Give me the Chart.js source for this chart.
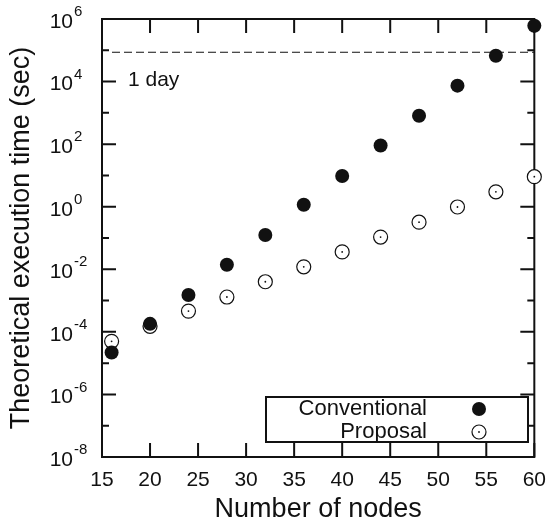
<!DOCTYPE html>
<html lang="en">

<head>
    <meta charset="UTF-8">
    <title>Theoretical execution time</title>
    <script src="https://cdn.jsdelivr.net/npm/chart.js"></script>
    <style>
        body { margin: 0; background: #fff; }
    </style>
</head>

<body>
    <canvas id="execTimeChart" width="557" height="530"></canvas>

    <script>
        // data
        const nodes = [16, 20, 24, 28, 32, 36, 40, 44, 48, 52, 56, 60];
        const conventional = [2.2e-5, 1.8e-4, 1.5e-3, 0.014, 0.125, 1.15, 9.6, 90, 810, 7400, 67000, 610000];
        const proposal = [5e-5, 1.5e-4, 4.6e-4, 1.3e-3, 4e-3, 0.012, 0.036, 0.107, 0.32, 0.98, 3.0, 9.1];
        const xTicks = [15, 20, 25, 30, 35, 40, 45, 50, 55, 60];
        const yExponents = [-8, -7, -6, -5, -4, -3, -2, -1, 0, 1, 2, 3, 4, 5, 6];
        const oneDay = 86400;

        const FONT = 'Liberation Sans, Arial, Helvetica, sans-serif';
        const INK = '#111';

        function centerDot(ctx, x, y) {
            ctx.beginPath();
            ctx.arc(x, y, 0.9, 0, Math.PI * 2);
            ctx.fill();
        }

        // frame, inward ticks, 1 day line, y labels, legend
        const framePlugin = {
            id: 'frame',
            beforeDatasetsDraw(chart) {
                const { ctx, chartArea: a, scales } = chart;
                const xs = scales.x, ys = scales.y;
                ctx.save();
                ctx.strokeStyle = INK;
                ctx.lineWidth = 2;
                ctx.beginPath();
                xTicks.forEach(v => {
                    const px = xs.getPixelForValue(v);
                    ctx.moveTo(px, a.bottom); ctx.lineTo(px, a.bottom - 14);
                    ctx.moveTo(px, a.top); ctx.lineTo(px, a.top + 14);
                });
                yExponents.forEach(e => {
                    const py = ys.getPixelForValue(Math.pow(10, e));
                    const len = e % 2 === 0 ? 14 : 7;
                    ctx.moveTo(a.left, py); ctx.lineTo(a.left + len, py);
                    ctx.moveTo(a.right, py); ctx.lineTo(a.right - len, py);
                });
                ctx.stroke();
                ctx.strokeRect(a.left, a.top, a.right - a.left, a.bottom - a.top);

                // 1 day
                const dy = ys.getPixelForValue(oneDay);
                ctx.lineWidth = 1.2;
                ctx.setLineDash([8, 4]);
                ctx.beginPath();
                ctx.moveTo(a.left + 10, dy);
                ctx.lineTo(a.right, dy);
                ctx.stroke();
                ctx.setLineDash([]);
                ctx.fillStyle = INK;
                ctx.font = '21px ' + FONT;
                ctx.textAlign = 'left';
                ctx.textBaseline = 'middle';
                ctx.fillText('1 day', a.left + 26, dy + 28);

                // y tick labels 10^n
                ys.ticks.forEach(t => {
                    const e = Math.round(Math.log10(t.value));
                    if (e % 2 !== 0) return;
                    const py = ys.getPixelForValue(t.value);
                    ctx.font = '21px ' + FONT;
                    ctx.textAlign = 'right';
                    ctx.fillText('10', 73, py + 3);
                    ctx.font = '15px ' + FONT;
                    ctx.textAlign = 'left';
                    ctx.fillText(String(e), 74, py - 7);
                });
                ctx.restore();
            },
            afterDatasetsDraw(chart) {
                // dot in the middle of each open circle
                const { ctx } = chart;
                ctx.save();
                ctx.fillStyle = INK;
                chart.getDatasetMeta(1).data.forEach(pt => centerDot(ctx, pt.x, pt.y));
                ctx.restore();
            },
            afterDraw(chart) {
                // legend box
                const { ctx } = chart;
                ctx.save();
                ctx.fillStyle = '#fff';
                ctx.strokeStyle = INK;
                ctx.lineWidth = 2;
                ctx.fillRect(266, 397, 262, 45);
                ctx.strokeRect(266, 397, 262, 45);
                ctx.font = '22px ' + FONT;
                ctx.textAlign = 'right';
                ctx.textBaseline = 'middle';
                const rows = [409, 432];
                chart.data.datasets.forEach((ds, i) => {
                    ctx.fillStyle = INK;
                    ctx.fillText(ds.label, 427, rows[i]);
                    ctx.beginPath();
                    ctx.arc(479, rows[i], 7, 0, Math.PI * 2);
                    ctx.fillStyle = ds.backgroundColor;
                    ctx.fill();
                    if (ds.borderWidth) {
                        ctx.lineWidth = ds.borderWidth;
                        ctx.strokeStyle = ds.borderColor;
                        ctx.stroke();
                        ctx.fillStyle = INK;
                        centerDot(ctx, 479, rows[i]);
                    }
                });
                ctx.restore();
            }
        };

        document.addEventListener('DOMContentLoaded', function () {
            const ctx = document.getElementById('execTimeChart').getContext('2d');
            new Chart(ctx, {
                type: 'scatter',
                data: {
                    datasets: [{
                        label: 'Conventional',
                        data: nodes.map((n, i) => ({ x: n, y: conventional[i] })),
                        pointStyle: 'circle',
                        pointRadius: 7,
                        backgroundColor: INK,
                        borderColor: INK,
                        borderWidth: 0,
                        clip: false
                    }, {
                        label: 'Proposal',
                        data: nodes.map((n, i) => ({ x: n, y: proposal[i] })),
                        pointStyle: 'circle',
                        pointRadius: 7,
                        backgroundColor: '#fff',
                        borderColor: INK,
                        borderWidth: 1.2,
                        clip: false
                    }]
                },
                options: {
                    responsive: false,
                    animation: false,
                    events: [],
                    layout: { padding: { top: 19, right: 16, left: 0, bottom: 0 } },
                    plugins: { legend: { display: false }, tooltip: { enabled: false } },
                    scales: {
                        x: {
                            type: 'linear',
                            min: 15,
                            max: 60,
                            afterBuildTicks: s => { s.ticks = xTicks.map(v => ({ value: v })); },
                            afterFit: s => { s.height = 73; },
                            grid: { display: false, drawTicks: false },
                            border: { display: false },
                            ticks: { color: INK, font: { family: FONT, size: 21 }, padding: 11, maxRotation: 0 },
                            title: { display: true, text: 'Number of nodes', color: INK, font: { family: FONT, size: 27 }, padding: { top: 0, bottom: 4 } }
                        },
                        y: {
                            type: 'logarithmic',
                            min: 1e-8,
                            max: 1e6,
                            afterBuildTicks: s => { s.ticks = yExponents.map(e => ({ value: Math.pow(10, e) })); },
                            afterFit: s => { s.width = 102; },
                            grid: { display: false, drawTicks: false },
                            border: { display: false },
                            ticks: { display: false },
                            title: { display: true, text: 'Theoretical execution time (sec)', color: INK, font: { family: FONT, size: 27 }, padding: { top: 5, bottom: 0 } }
                        }
                    }
                },
                plugins: [framePlugin]
            });
        });
    </script>
</body>

</html>
